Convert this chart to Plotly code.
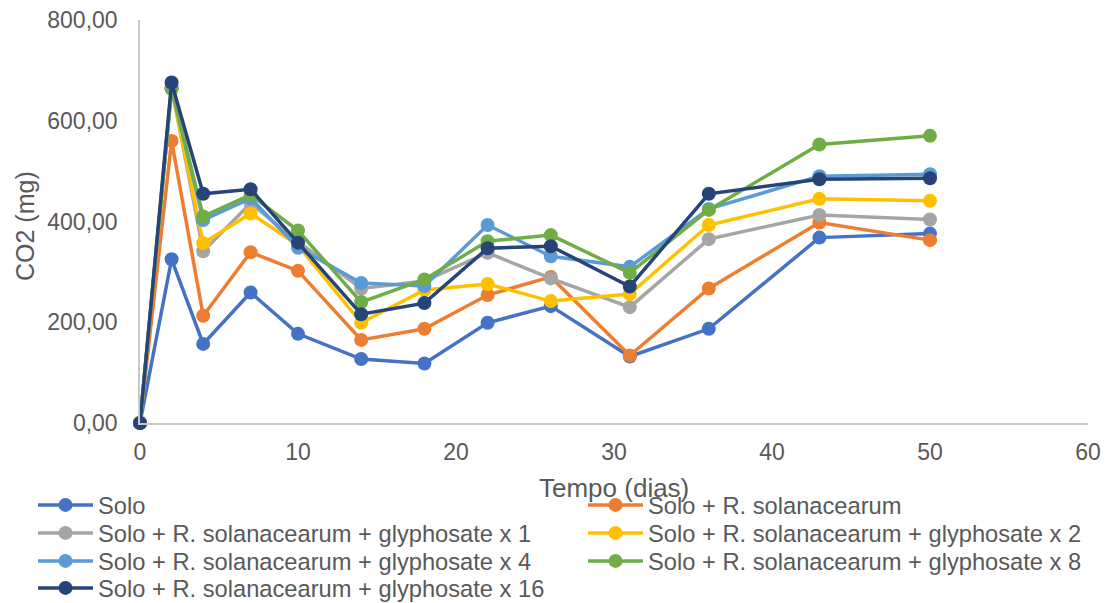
import plotly.graph_objects as go

# Days of incubation
dias = [0, 2, 4, 7, 10, 14, 18, 22, 26, 31, 36, 43, 50]

solo = [0, 325, 157, 259, 177, 127, 118, 199, 232, 132, 187, 368, 376]
solo_rs = [0, 560, 213, 339, 302, 165, 187, 254, 290, 134, 267, 398, 363]
gly_1 = [0, 666, 341, 436, 360, 267, 282, 338, 287, 230, 365, 413, 404]
gly_2 = [0, 664, 357, 416, 353, 199, 264, 276, 242, 256, 393, 445, 441]
gly_4 = [0, 664, 403, 446, 348, 278, 272, 393, 331, 310, 425, 490, 494]
gly_8 = [0, 664, 410, 453, 382, 240, 285, 361, 373, 298, 423, 553, 570]
gly_16 = [0, 676, 455, 464, 358, 216, 238, 347, 351, 271, 455, 484, 486]

series_names = [
    "Solo",
    "Solo + R. solanacearum",
    "Solo + R. solanacearum + glyphosate x 1",
    "Solo + R. solanacearum + glyphosate x 2",
    "Solo + R. solanacearum + glyphosate x 4",
    "Solo + R. solanacearum + glyphosate x 8",
    "Solo + R. solanacearum + glyphosate x 16",
]
series_values = [solo, solo_rs, gly_1, gly_2, gly_4, gly_8, gly_16]
colors = ["#4472C4", "#ED7D31", "#A5A5A5", "#FFC000", "#5B9BD5", "#70AD47", "#264478"]

W, H = 1108, 603
text_color = "#595959"
font_family = "Liberation Sans, Arial, sans-serif"

# Legend laid out in two columns, filled row by row (one legend box per entry)
col_x = [33, 583]
row_y = [505, 533, 561, 588]

fig = go.Figure()
legend_layouts = {}
for i, (name, vals, col) in enumerate(zip(series_names, series_values, colors)):
    key = "legend" if i == 0 else f"legend{i + 1}"
    fig.add_trace(go.Scatter(
        x=dias, y=vals, name=name, mode="lines+markers",
        line=dict(color=col, width=3.5),
        marker=dict(color=col, size=14),
        cliponaxis=False,
        legend=key,
    ))
    legend_layouts[key] = dict(
        xref="container", yref="container",
        x=col_x[i % 2] / W, xanchor="left",
        y=1 - row_y[i // 2] / H, yanchor="middle",
        itemwidth=55, bgcolor="rgba(0,0,0,0)",
        font=dict(family=font_family, size=23.7, color=text_color),
    )

fig.update_layout(
    width=W, height=H,
    margin=dict(l=140, r=20, t=20, b=180, autoexpand=False),
    paper_bgcolor="white", plot_bgcolor="white",
    separators=",.",
    font=dict(family=font_family, size=23, color=text_color),
    showlegend=True,
    xaxis=dict(
        range=[0, 60], dtick=10, tickformat="d",
        showgrid=False, zeroline=False,
        showline=True, linecolor="#C9C9C9", linewidth=1.5,
        ticks="", tickfont=dict(size=23, color=text_color),
        ticklabelstandoff=8,
    ),
    yaxis=dict(
        range=[0, 800], dtick=200, tickformat=".2f",
        showgrid=False, zeroline=False,
        showline=True, linecolor="#C9C9C9", linewidth=1.5,
        ticks="", tickfont=dict(size=23, color=text_color),
        ticklabelstandoff=16,
    ),
    **legend_layouts,
)

# Axis titles positioned in pixels relative to the plot area
plot_h = H - 20 - 180
plot_w = W - 140 - 20
fig.add_annotation(text="Tempo (dias)", xref="paper", yref="paper",
                   x=(614 - 140) / plot_w, y=(423 - 488) / plot_h,
                   xanchor="center", yanchor="middle",
                   showarrow=False, font=dict(size=26, color=text_color))
fig.add_annotation(text="CO2 (mg)", xref="paper", yref="paper",
                   x=(25 - 140) / plot_w, y=(423 - 226) / plot_h,
                   xanchor="center", yanchor="middle",
                   textangle=-90, showarrow=False,
                   font=dict(size=25, color=text_color))

fig.write_html("out.html")
